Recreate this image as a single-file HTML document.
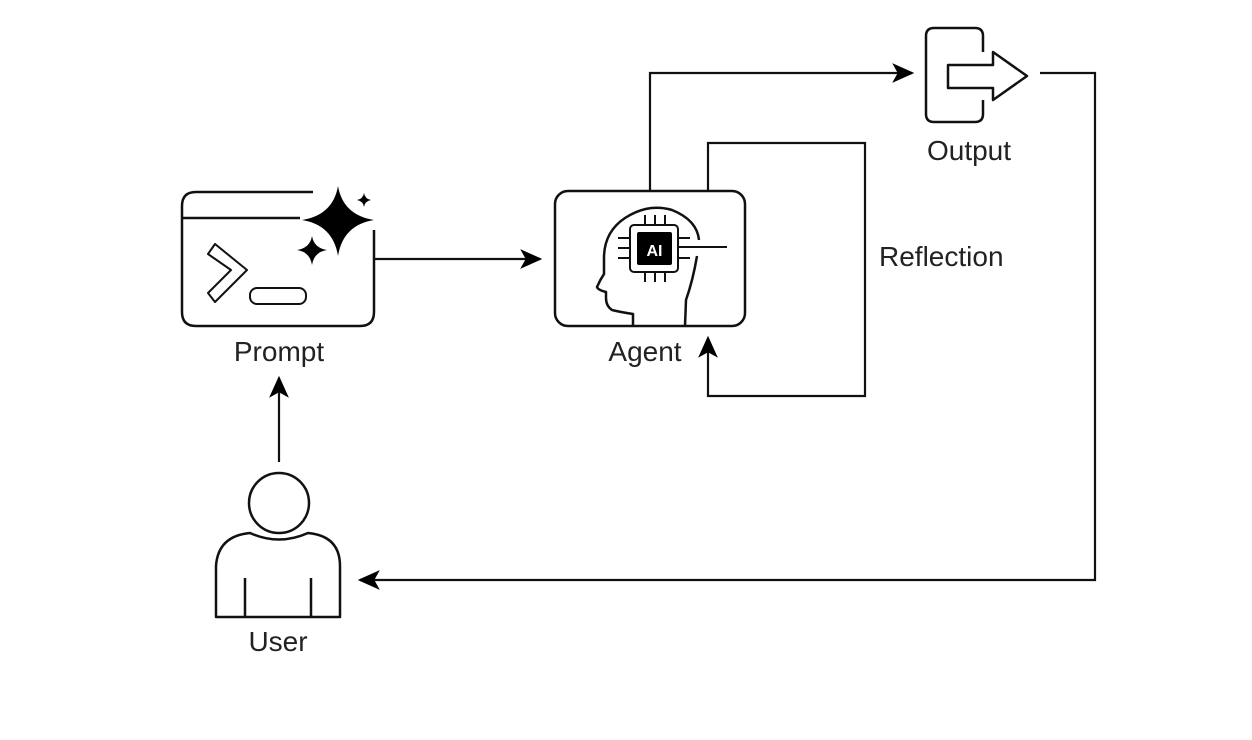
<!DOCTYPE html>
<html><head><meta charset="utf-8"><style>
html,body{margin:0;padding:0;background:#fff;}
svg{display:block;}
text{font-family:"Liberation Sans",Arial,sans-serif;font-size:28px;fill:#222;}
</style></head><body>
<svg width="1252" height="740" viewBox="0 0 1252 740" xmlns="http://www.w3.org/2000/svg">
<defs>
<marker id="ah2" viewBox="0 0 20 20" refX="18" refY="10" markerWidth="22" markerHeight="22" markerUnits="userSpaceOnUse" orient="auto">
<path d="M0,1 L20,10 L0,19 L5,10 Z" fill="#000"/>
</marker>
</defs>
<g fill="none" stroke="#111" stroke-width="2.5" stroke-linejoin="round">
<path d="M313,192 L196,192 Q182,192 182,206 L182,312 Q182,326 196,326 L360,326 Q374,326 374,312 L374,230"/>
<line x1="182" y1="218" x2="300" y2="218"/>
<path d="M208,254 L215,244 L247,270 L215,302 L208,293 L231,270 Z" stroke-width="2"/>
<rect x="250" y="288" width="56" height="16" rx="7" stroke-width="2"/>
<rect x="555" y="191" width="190" height="135" rx="13"/>
<path d="M633,326 L633,314 Q620,312 612,310 Q606,306 606,298 L606,292 Q598,290 597,287 Q600,280 604,274 L604,258 Q604,232 625,218 Q648,203 672,210 Q697,220 699,240"/>
<path d="M697,256 Q693,280 686,300 L685,326"/>
<rect x="630" y="225" width="48" height="47" rx="4" stroke-width="2"/>
<path d="M645,215 V225 M655,215 V225 M665,215 V225 M645,272 V282 M655,272 V282 M665,272 V282 M618,238 H630 M618,248 H630 M618,258 H630 M678,238 H690 M678,258 H690" stroke-width="2"/>
<line x1="678" y1="247" x2="727" y2="247" stroke-width="2"/>
<path d="M983,52 L983,36 Q983,28 975,28 L934,28 Q926,28 926,36 L926,114 Q926,122 934,122 L975,122 Q983,122 983,114 L983,100"/>
<path d="M948,65 L993,65 L993,52 L1027,76 L993,100 L993,88 L948,88 Z"/>
<circle cx="279" cy="503" r="30"/>
<path d="M216,617 L216,566 Q218,536 250,533 Q279,546 308,533 Q340,536 340,566 L340,617 Z"/>
<path d="M245,578 V617 M311,578 V617"/>
</g>
<rect x="637" y="232" width="35" height="33" rx="2" fill="#000"/>
<text x="654.5" y="256" text-anchor="middle" style="font-size:16px;font-weight:bold;fill:#fff">AI</text>
<path d="M338,186 Q343,215 374,220 Q343,225 338,256 Q333,225 302,220 Q333,215 338,186 Z" fill="#000"/>
<path d="M312,236 Q314,248 327,250 Q314,252 312,265 Q310,252 297,250 Q310,248 312,236 Z" fill="#000"/>
<path d="M364,193 Q365,199 371,200 Q365,201 364,207 Q363,201 357,200 Q363,199 364,193 Z" fill="#000"/>
<g fill="none" stroke="#111" stroke-width="2.2">
<line x1="374" y1="259" x2="540" y2="259" marker-end="url(#ah2)"/>
<polyline points="650,191 650,73 912,73" marker-end="url(#ah2)"/>
<polyline points="1040,73 1095,73 1095,580 360,580" marker-end="url(#ah2)"/>
<polyline points="708,191 708,143 865,143 865,396 708,396 708,338" marker-end="url(#ah2)"/>
<line x1="279" y1="462" x2="279" y2="378" marker-end="url(#ah2)"/>
</g>
<text x="279" y="361" text-anchor="middle">Prompt</text>
<text x="645" y="361" text-anchor="middle">Agent</text>
<text x="969" y="160" text-anchor="middle">Output</text>
<text x="278" y="651" text-anchor="middle">User</text>
<text x="879" y="266">Reflection</text>
</svg>
</body></html>
